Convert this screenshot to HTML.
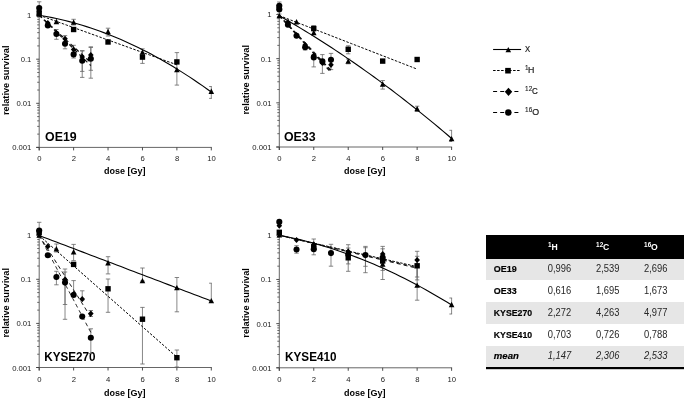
<!DOCTYPE html>
<html><head><meta charset="utf-8"><style>
html,body{margin:0;padding:0;background:#fff;}
body{width:685px;height:399px;overflow:hidden;}
svg{display:block;font-family:"Liberation Sans", sans-serif;filter:grayscale(1);}
</style></head><body>
<svg width="685" height="399" viewBox="0 0 685 399">
<rect width="685" height="399" fill="#fff"/>
<line x1="39.20" y1="14.60" x2="39.20" y2="150.40" stroke="#666666" stroke-width="1"/>
<line x1="36.20" y1="147.40" x2="211.80" y2="147.40" stroke="#666666" stroke-width="1"/>
<line x1="36.20" y1="147.40" x2="39.20" y2="147.40" stroke="#3a3a3a" stroke-width="0.9"/>
<line x1="37.20" y1="134.12" x2="39.20" y2="134.12" stroke="#3a3a3a" stroke-width="0.75"/>
<line x1="37.20" y1="126.36" x2="39.20" y2="126.36" stroke="#3a3a3a" stroke-width="0.75"/>
<line x1="37.20" y1="120.85" x2="39.20" y2="120.85" stroke="#3a3a3a" stroke-width="0.75"/>
<line x1="37.20" y1="116.58" x2="39.20" y2="116.58" stroke="#3a3a3a" stroke-width="0.75"/>
<line x1="37.20" y1="113.08" x2="39.20" y2="113.08" stroke="#3a3a3a" stroke-width="0.75"/>
<line x1="37.20" y1="110.13" x2="39.20" y2="110.13" stroke="#3a3a3a" stroke-width="0.75"/>
<line x1="37.20" y1="107.57" x2="39.20" y2="107.57" stroke="#3a3a3a" stroke-width="0.75"/>
<line x1="37.20" y1="105.32" x2="39.20" y2="105.32" stroke="#3a3a3a" stroke-width="0.75"/>
<line x1="36.20" y1="103.30" x2="39.20" y2="103.30" stroke="#3a3a3a" stroke-width="0.9"/>
<line x1="37.20" y1="90.02" x2="39.20" y2="90.02" stroke="#3a3a3a" stroke-width="0.75"/>
<line x1="37.20" y1="82.26" x2="39.20" y2="82.26" stroke="#3a3a3a" stroke-width="0.75"/>
<line x1="37.20" y1="76.75" x2="39.20" y2="76.75" stroke="#3a3a3a" stroke-width="0.75"/>
<line x1="37.20" y1="72.48" x2="39.20" y2="72.48" stroke="#3a3a3a" stroke-width="0.75"/>
<line x1="37.20" y1="68.98" x2="39.20" y2="68.98" stroke="#3a3a3a" stroke-width="0.75"/>
<line x1="37.20" y1="66.03" x2="39.20" y2="66.03" stroke="#3a3a3a" stroke-width="0.75"/>
<line x1="37.20" y1="63.47" x2="39.20" y2="63.47" stroke="#3a3a3a" stroke-width="0.75"/>
<line x1="37.20" y1="61.22" x2="39.20" y2="61.22" stroke="#3a3a3a" stroke-width="0.75"/>
<line x1="36.20" y1="59.20" x2="39.20" y2="59.20" stroke="#3a3a3a" stroke-width="0.9"/>
<line x1="37.20" y1="45.92" x2="39.20" y2="45.92" stroke="#3a3a3a" stroke-width="0.75"/>
<line x1="37.20" y1="38.16" x2="39.20" y2="38.16" stroke="#3a3a3a" stroke-width="0.75"/>
<line x1="37.20" y1="32.65" x2="39.20" y2="32.65" stroke="#3a3a3a" stroke-width="0.75"/>
<line x1="37.20" y1="28.38" x2="39.20" y2="28.38" stroke="#3a3a3a" stroke-width="0.75"/>
<line x1="37.20" y1="24.88" x2="39.20" y2="24.88" stroke="#3a3a3a" stroke-width="0.75"/>
<line x1="37.20" y1="21.93" x2="39.20" y2="21.93" stroke="#3a3a3a" stroke-width="0.75"/>
<line x1="37.20" y1="19.37" x2="39.20" y2="19.37" stroke="#3a3a3a" stroke-width="0.75"/>
<line x1="37.20" y1="17.12" x2="39.20" y2="17.12" stroke="#3a3a3a" stroke-width="0.75"/>
<line x1="36.20" y1="15.10" x2="39.20" y2="15.10" stroke="#3a3a3a" stroke-width="0.9"/>
<line x1="39.20" y1="147.40" x2="39.20" y2="150.40" stroke="#3a3a3a" stroke-width="0.9"/>
<text x="39.40" y="161.40" text-anchor="middle" font-size="7.7" fill="#222222">0</text>
<line x1="73.62" y1="147.40" x2="73.62" y2="150.40" stroke="#3a3a3a" stroke-width="0.9"/>
<text x="73.82" y="161.40" text-anchor="middle" font-size="7.7" fill="#222222">2</text>
<line x1="108.04" y1="147.40" x2="108.04" y2="150.40" stroke="#3a3a3a" stroke-width="0.9"/>
<text x="108.24" y="161.40" text-anchor="middle" font-size="7.7" fill="#222222">4</text>
<line x1="142.46" y1="147.40" x2="142.46" y2="150.40" stroke="#3a3a3a" stroke-width="0.9"/>
<text x="142.66" y="161.40" text-anchor="middle" font-size="7.7" fill="#222222">6</text>
<line x1="176.88" y1="147.40" x2="176.88" y2="150.40" stroke="#3a3a3a" stroke-width="0.9"/>
<text x="177.08" y="161.40" text-anchor="middle" font-size="7.7" fill="#222222">8</text>
<line x1="211.30" y1="147.40" x2="211.30" y2="150.40" stroke="#3a3a3a" stroke-width="0.9"/>
<text x="211.50" y="161.40" text-anchor="middle" font-size="7.7" fill="#222222">10</text>
<text x="31.40" y="150.40" text-anchor="end" font-size="7.7" fill="#222222">0.001</text>
<text x="31.40" y="106.30" text-anchor="end" font-size="7.7" fill="#222222">0.01</text>
<text x="31.40" y="62.20" text-anchor="end" font-size="7.7" fill="#222222">0.1</text>
<text x="31.40" y="18.10" text-anchor="end" font-size="7.7" fill="#222222">1</text>
<text x="124.65" y="174.20" text-anchor="middle" font-size="9" font-weight="bold" fill="#000">dose [Gy]</text>
<text transform="translate(9.00,80.25) rotate(-90)" text-anchor="middle" font-size="9.2" font-weight="bold" fill="#000">relative survival</text>
<text x="45.10" y="141.20" font-size="12.2" font-weight="bold" fill="#000" textLength="31.6" lengthAdjust="spacingAndGlyphs">OE19</text>
<line x1="39.20" y1="1.80" x2="39.20" y2="16.00" stroke="#6a6a6a" stroke-width="0.8"/><line x1="37.00" y1="1.80" x2="41.40" y2="1.80" stroke="#666" stroke-width="0.8"/><line x1="37.00" y1="16.00" x2="41.40" y2="16.00" stroke="#666" stroke-width="0.8"/>
<line x1="56.41" y1="29.50" x2="56.41" y2="39.30" stroke="#6a6a6a" stroke-width="0.8"/><line x1="54.21" y1="29.50" x2="58.61" y2="29.50" stroke="#666" stroke-width="0.8"/><line x1="54.21" y1="39.30" x2="58.61" y2="39.30" stroke="#666" stroke-width="0.8"/>
<line x1="65.02" y1="35.60" x2="65.02" y2="48.80" stroke="#6a6a6a" stroke-width="0.8"/><line x1="62.82" y1="35.60" x2="67.22" y2="35.60" stroke="#666" stroke-width="0.8"/><line x1="62.82" y1="48.80" x2="67.22" y2="48.80" stroke="#666" stroke-width="0.8"/>
<line x1="73.62" y1="19.30" x2="73.62" y2="25.00" stroke="#6a6a6a" stroke-width="0.8"/><line x1="71.42" y1="19.30" x2="75.82" y2="19.30" stroke="#666" stroke-width="0.8"/><line x1="71.42" y1="25.00" x2="75.82" y2="25.00" stroke="#666" stroke-width="0.8"/>
<line x1="73.62" y1="45.30" x2="73.62" y2="58.00" stroke="#6a6a6a" stroke-width="0.8"/><line x1="71.42" y1="45.30" x2="75.82" y2="45.30" stroke="#666" stroke-width="0.8"/><line x1="71.42" y1="58.00" x2="75.82" y2="58.00" stroke="#666" stroke-width="0.8"/>
<line x1="82.23" y1="50.60" x2="82.23" y2="77.40" stroke="#6a6a6a" stroke-width="0.8"/><line x1="80.03" y1="50.60" x2="84.43" y2="50.60" stroke="#666" stroke-width="0.8"/><line x1="80.03" y1="77.40" x2="84.43" y2="77.40" stroke="#666" stroke-width="0.8"/>
<line x1="82.23" y1="51.00" x2="82.23" y2="71.40" stroke="#6a6a6a" stroke-width="0.8"/><line x1="80.03" y1="51.00" x2="84.43" y2="51.00" stroke="#666" stroke-width="0.8"/><line x1="80.03" y1="71.40" x2="84.43" y2="71.40" stroke="#666" stroke-width="0.8"/>
<line x1="90.83" y1="46.80" x2="90.83" y2="78.20" stroke="#6a6a6a" stroke-width="0.8"/><line x1="88.63" y1="46.80" x2="93.03" y2="46.80" stroke="#666" stroke-width="0.8"/><line x1="88.63" y1="78.20" x2="93.03" y2="78.20" stroke="#666" stroke-width="0.8"/>
<line x1="90.83" y1="47.50" x2="90.83" y2="70.30" stroke="#6a6a6a" stroke-width="0.8"/><line x1="88.63" y1="47.50" x2="93.03" y2="47.50" stroke="#666" stroke-width="0.8"/><line x1="88.63" y1="70.30" x2="93.03" y2="70.30" stroke="#666" stroke-width="0.8"/>
<line x1="108.04" y1="28.20" x2="108.04" y2="36.00" stroke="#6a6a6a" stroke-width="0.8"/><line x1="105.84" y1="28.20" x2="110.24" y2="28.20" stroke="#666" stroke-width="0.8"/><line x1="105.84" y1="36.00" x2="110.24" y2="36.00" stroke="#666" stroke-width="0.8"/>
<line x1="142.46" y1="48.80" x2="142.46" y2="63.40" stroke="#6a6a6a" stroke-width="0.8"/><line x1="140.26" y1="48.80" x2="144.66" y2="48.80" stroke="#666" stroke-width="0.8"/><line x1="140.26" y1="63.40" x2="144.66" y2="63.40" stroke="#666" stroke-width="0.8"/>
<line x1="176.88" y1="52.60" x2="176.88" y2="85.10" stroke="#6a6a6a" stroke-width="0.8"/><line x1="174.68" y1="52.60" x2="179.08" y2="52.60" stroke="#666" stroke-width="0.8"/><line x1="174.68" y1="85.10" x2="179.08" y2="85.10" stroke="#666" stroke-width="0.8"/>
<line x1="211.30" y1="86.50" x2="211.30" y2="98.40" stroke="#6a6a6a" stroke-width="0.8"/><line x1="209.10" y1="86.50" x2="211.80" y2="86.50" stroke="#666" stroke-width="0.8"/><line x1="209.10" y1="98.40" x2="211.80" y2="98.40" stroke="#666" stroke-width="0.8"/>
<polyline points="39.20,15.20 43.50,15.94 47.81,16.73 52.11,17.59 56.41,18.51 60.71,19.49 65.02,20.53 69.32,21.63 73.62,22.79 77.92,24.02 82.23,25.30 86.53,26.64 90.83,28.05 95.13,29.51 99.44,31.04 103.74,32.63 108.04,34.28 112.34,35.99 116.65,37.76 120.95,39.59 125.25,41.48 129.55,43.43 133.86,45.44 138.16,47.52 142.46,49.65 146.76,51.85 151.06,54.10 155.37,56.42 159.67,58.80 163.97,61.24 168.28,63.73 172.58,66.29 176.88,68.92 181.18,71.60 185.49,74.34 189.79,77.14 194.09,80.01 198.39,82.93 202.70,85.92 207.00,88.96 211.30,92.07" stroke="#000" stroke-width="1.1" fill="none"/>
<polyline points="39.20,15.20 42.64,16.44 46.08,17.68 49.53,18.92 52.97,20.16 56.41,21.40 59.85,22.64 63.29,23.88 66.74,25.12 70.18,26.36 73.62,27.60 77.06,28.84 80.50,30.08 83.95,31.32 87.39,32.56 90.83,33.80 94.27,35.04 97.71,36.28 101.16,37.52 104.60,38.76 108.04,40.00 111.48,41.24 114.92,42.48 118.37,43.72 121.81,44.96 125.25,46.20 128.69,47.44 132.13,48.68 135.58,49.92 139.02,51.16 142.46,52.40 145.90,53.64 149.34,54.88 152.79,56.12 156.23,57.36 159.67,58.60 163.11,59.84 166.55,61.08 170.00,62.32 173.44,63.56 176.88,64.80" stroke="#000" stroke-width="1.0" fill="none" stroke-dasharray="2.5,1.5"/>
<polyline points="39.20,15.20 40.49,16.38 41.78,17.57 43.07,18.75 44.36,19.94 45.65,21.12 46.94,22.31 48.24,23.49 49.53,24.68 50.82,25.87 52.11,27.05 53.40,28.23 54.69,29.42 55.98,30.61 57.27,31.79 58.56,32.98 59.85,34.16 61.14,35.34 62.43,36.53 63.72,37.72 65.02,38.90 66.31,40.09 67.60,41.27 68.89,42.45 70.18,43.64 71.47,44.83 72.76,46.01 74.05,47.20 75.34,48.38 76.63,49.56 77.92,50.75 79.21,51.94 80.50,53.12 81.79,54.31 83.09,55.49 84.38,56.67 85.67,57.86 86.96,59.05 88.25,60.23 89.54,61.41 90.83,62.60" stroke="#111" stroke-width="1.2" fill="none" stroke-dasharray="4,3.1"/>
<polyline points="39.20,15.20 40.49,16.46 41.78,17.72 43.07,18.98 44.36,20.24 45.65,21.50 46.94,22.76 48.24,24.02 49.53,25.28 50.82,26.54 52.11,27.80 53.40,29.06 54.69,30.32 55.98,31.58 57.27,32.84 58.56,34.10 59.85,35.36 61.14,36.62 62.43,37.88 63.72,39.14 65.02,40.40 66.31,41.66 67.60,42.92 68.89,44.18 70.18,45.44 71.47,46.70 72.76,47.96 74.05,49.22 75.34,50.48 76.63,51.74 77.92,53.00 79.21,54.26 80.50,55.52 81.79,56.78 83.09,58.04 84.38,59.30 85.67,60.56 86.96,61.82 88.25,63.08 89.54,64.34 90.83,65.60" stroke="#111" stroke-width="1.2" fill="none" stroke-dasharray="4,3.1" stroke-dashoffset="0.6"/>
<rect x="36.50" y="10.50" width="5.40" height="5.40" fill="#000"/>
<rect x="70.92" y="26.80" width="5.40" height="5.40" fill="#000"/>
<rect x="105.34" y="39.30" width="5.40" height="5.40" fill="#000"/>
<rect x="139.76" y="54.40" width="5.40" height="5.40" fill="#000"/>
<rect x="174.18" y="59.20" width="5.40" height="5.40" fill="#000"/>
<path d="M39.20,11.31 L42.00,16.63 L36.40,16.63 Z" fill="#000"/>
<path d="M56.41,18.81 L59.21,24.13 L53.61,24.13 Z" fill="#000"/>
<path d="M73.62,19.41 L76.42,24.73 L70.82,24.73 Z" fill="#000"/>
<path d="M108.04,28.81 L110.84,34.13 L105.24,34.13 Z" fill="#000"/>
<path d="M142.46,49.41 L145.26,54.73 L139.66,54.73 Z" fill="#000"/>
<path d="M176.88,67.01 L179.68,72.33 L174.08,72.33 Z" fill="#000"/>
<path d="M211.30,88.61 L214.10,93.93 L208.50,93.93 Z" fill="#000"/>
<path d="M39.20,7.90 L41.99,11.00 L39.20,14.10 L36.41,11.00 Z" fill="#000"/>
<path d="M47.81,19.90 L50.60,23.00 L47.81,26.10 L45.02,23.00 Z" fill="#000"/>
<path d="M56.41,29.90 L59.20,33.00 L56.41,36.10 L53.62,33.00 Z" fill="#000"/>
<path d="M65.02,35.70 L67.81,38.80 L65.02,41.90 L62.23,38.80 Z" fill="#000"/>
<path d="M73.62,46.40 L76.41,49.50 L73.62,52.60 L70.83,49.50 Z" fill="#000"/>
<path d="M82.23,53.90 L85.02,57.00 L82.23,60.10 L79.44,57.00 Z" fill="#000"/>
<path d="M90.83,51.90 L93.62,55.00 L90.83,58.10 L88.04,55.00 Z" fill="#000"/>
<circle cx="39.20" cy="8.00" r="3.05" fill="#000"/>
<circle cx="47.81" cy="25.50" r="3.05" fill="#000"/>
<circle cx="56.41" cy="34.00" r="3.05" fill="#000"/>
<circle cx="65.02" cy="43.80" r="3.05" fill="#000"/>
<circle cx="73.62" cy="54.40" r="3.05" fill="#000"/>
<circle cx="82.23" cy="60.70" r="3.05" fill="#000"/>
<circle cx="90.83" cy="58.80" r="3.05" fill="#000"/>
<line x1="279.30" y1="13.99" x2="279.30" y2="150.00" stroke="#666666" stroke-width="1"/>
<line x1="276.30" y1="147.00" x2="452.10" y2="147.00" stroke="#666666" stroke-width="1"/>
<line x1="276.30" y1="147.00" x2="279.30" y2="147.00" stroke="#3a3a3a" stroke-width="0.9"/>
<line x1="277.30" y1="133.70" x2="279.30" y2="133.70" stroke="#3a3a3a" stroke-width="0.75"/>
<line x1="277.30" y1="125.93" x2="279.30" y2="125.93" stroke="#3a3a3a" stroke-width="0.75"/>
<line x1="277.30" y1="120.41" x2="279.30" y2="120.41" stroke="#3a3a3a" stroke-width="0.75"/>
<line x1="277.30" y1="116.13" x2="279.30" y2="116.13" stroke="#3a3a3a" stroke-width="0.75"/>
<line x1="277.30" y1="112.63" x2="279.30" y2="112.63" stroke="#3a3a3a" stroke-width="0.75"/>
<line x1="277.30" y1="109.67" x2="279.30" y2="109.67" stroke="#3a3a3a" stroke-width="0.75"/>
<line x1="277.30" y1="107.11" x2="279.30" y2="107.11" stroke="#3a3a3a" stroke-width="0.75"/>
<line x1="277.30" y1="104.85" x2="279.30" y2="104.85" stroke="#3a3a3a" stroke-width="0.75"/>
<line x1="276.30" y1="102.83" x2="279.30" y2="102.83" stroke="#3a3a3a" stroke-width="0.9"/>
<line x1="277.30" y1="89.53" x2="279.30" y2="89.53" stroke="#3a3a3a" stroke-width="0.75"/>
<line x1="277.30" y1="81.76" x2="279.30" y2="81.76" stroke="#3a3a3a" stroke-width="0.75"/>
<line x1="277.30" y1="76.24" x2="279.30" y2="76.24" stroke="#3a3a3a" stroke-width="0.75"/>
<line x1="277.30" y1="71.96" x2="279.30" y2="71.96" stroke="#3a3a3a" stroke-width="0.75"/>
<line x1="277.30" y1="68.46" x2="279.30" y2="68.46" stroke="#3a3a3a" stroke-width="0.75"/>
<line x1="277.30" y1="65.50" x2="279.30" y2="65.50" stroke="#3a3a3a" stroke-width="0.75"/>
<line x1="277.30" y1="62.94" x2="279.30" y2="62.94" stroke="#3a3a3a" stroke-width="0.75"/>
<line x1="277.30" y1="60.68" x2="279.30" y2="60.68" stroke="#3a3a3a" stroke-width="0.75"/>
<line x1="276.30" y1="58.66" x2="279.30" y2="58.66" stroke="#3a3a3a" stroke-width="0.9"/>
<line x1="277.30" y1="45.36" x2="279.30" y2="45.36" stroke="#3a3a3a" stroke-width="0.75"/>
<line x1="277.30" y1="37.59" x2="279.30" y2="37.59" stroke="#3a3a3a" stroke-width="0.75"/>
<line x1="277.30" y1="32.07" x2="279.30" y2="32.07" stroke="#3a3a3a" stroke-width="0.75"/>
<line x1="277.30" y1="27.79" x2="279.30" y2="27.79" stroke="#3a3a3a" stroke-width="0.75"/>
<line x1="277.30" y1="24.29" x2="279.30" y2="24.29" stroke="#3a3a3a" stroke-width="0.75"/>
<line x1="277.30" y1="21.33" x2="279.30" y2="21.33" stroke="#3a3a3a" stroke-width="0.75"/>
<line x1="277.30" y1="18.77" x2="279.30" y2="18.77" stroke="#3a3a3a" stroke-width="0.75"/>
<line x1="277.30" y1="16.51" x2="279.30" y2="16.51" stroke="#3a3a3a" stroke-width="0.75"/>
<line x1="276.30" y1="14.49" x2="279.30" y2="14.49" stroke="#3a3a3a" stroke-width="0.9"/>
<line x1="279.30" y1="147.00" x2="279.30" y2="150.00" stroke="#3a3a3a" stroke-width="0.9"/>
<text x="279.50" y="161.00" text-anchor="middle" font-size="7.7" fill="#222222">0</text>
<line x1="313.76" y1="147.00" x2="313.76" y2="150.00" stroke="#3a3a3a" stroke-width="0.9"/>
<text x="313.96" y="161.00" text-anchor="middle" font-size="7.7" fill="#222222">2</text>
<line x1="348.22" y1="147.00" x2="348.22" y2="150.00" stroke="#3a3a3a" stroke-width="0.9"/>
<text x="348.42" y="161.00" text-anchor="middle" font-size="7.7" fill="#222222">4</text>
<line x1="382.68" y1="147.00" x2="382.68" y2="150.00" stroke="#3a3a3a" stroke-width="0.9"/>
<text x="382.88" y="161.00" text-anchor="middle" font-size="7.7" fill="#222222">6</text>
<line x1="417.14" y1="147.00" x2="417.14" y2="150.00" stroke="#3a3a3a" stroke-width="0.9"/>
<text x="417.34" y="161.00" text-anchor="middle" font-size="7.7" fill="#222222">8</text>
<line x1="451.60" y1="147.00" x2="451.60" y2="150.00" stroke="#3a3a3a" stroke-width="0.9"/>
<text x="451.80" y="161.00" text-anchor="middle" font-size="7.7" fill="#222222">10</text>
<text x="271.50" y="150.00" text-anchor="end" font-size="7.7" fill="#222222">0.001</text>
<text x="271.50" y="105.83" text-anchor="end" font-size="7.7" fill="#222222">0.01</text>
<text x="271.50" y="61.66" text-anchor="end" font-size="7.7" fill="#222222">0.1</text>
<text x="271.50" y="17.49" text-anchor="end" font-size="7.7" fill="#222222">1</text>
<text x="364.85" y="174.20" text-anchor="middle" font-size="9" font-weight="bold" fill="#000">dose [Gy]</text>
<text transform="translate(249.10,79.75) rotate(-90)" text-anchor="middle" font-size="9.2" font-weight="bold" fill="#000">relative survival</text>
<text x="284.00" y="141.00" font-size="12.2" font-weight="bold" fill="#000" textLength="31.6" lengthAdjust="spacingAndGlyphs">OE33</text>
<line x1="279.30" y1="2.00" x2="279.30" y2="14.00" stroke="#6a6a6a" stroke-width="0.8"/><line x1="277.10" y1="2.00" x2="281.50" y2="2.00" stroke="#666" stroke-width="0.8"/><line x1="277.10" y1="14.00" x2="281.50" y2="14.00" stroke="#666" stroke-width="0.8"/>
<line x1="313.76" y1="25.70" x2="313.76" y2="31.00" stroke="#6a6a6a" stroke-width="0.8"/><line x1="311.56" y1="25.70" x2="315.96" y2="25.70" stroke="#666" stroke-width="0.8"/><line x1="311.56" y1="31.00" x2="315.96" y2="31.00" stroke="#666" stroke-width="0.8"/>
<line x1="348.22" y1="45.80" x2="348.22" y2="53.80" stroke="#6a6a6a" stroke-width="0.8"/><line x1="346.02" y1="45.80" x2="350.42" y2="45.80" stroke="#666" stroke-width="0.8"/><line x1="346.02" y1="53.80" x2="350.42" y2="53.80" stroke="#666" stroke-width="0.8"/>
<line x1="348.22" y1="59.00" x2="348.22" y2="63.80" stroke="#6a6a6a" stroke-width="0.8"/><line x1="346.02" y1="59.00" x2="350.42" y2="59.00" stroke="#666" stroke-width="0.8"/><line x1="346.02" y1="63.80" x2="350.42" y2="63.80" stroke="#666" stroke-width="0.8"/>
<line x1="305.15" y1="44.50" x2="305.15" y2="50.00" stroke="#6a6a6a" stroke-width="0.8"/><line x1="302.95" y1="44.50" x2="307.35" y2="44.50" stroke="#666" stroke-width="0.8"/><line x1="302.95" y1="50.00" x2="307.35" y2="50.00" stroke="#666" stroke-width="0.8"/>
<line x1="313.76" y1="54.60" x2="313.76" y2="66.90" stroke="#6a6a6a" stroke-width="0.8"/><line x1="311.56" y1="54.60" x2="315.96" y2="54.60" stroke="#666" stroke-width="0.8"/><line x1="311.56" y1="66.90" x2="315.96" y2="66.90" stroke="#666" stroke-width="0.8"/>
<line x1="322.38" y1="54.60" x2="322.38" y2="73.40" stroke="#6a6a6a" stroke-width="0.8"/><line x1="320.18" y1="54.60" x2="324.57" y2="54.60" stroke="#666" stroke-width="0.8"/><line x1="320.18" y1="73.40" x2="324.57" y2="73.40" stroke="#666" stroke-width="0.8"/>
<line x1="330.99" y1="53.40" x2="330.99" y2="69.60" stroke="#6a6a6a" stroke-width="0.8"/><line x1="328.79" y1="53.40" x2="333.19" y2="53.40" stroke="#666" stroke-width="0.8"/><line x1="328.79" y1="69.60" x2="333.19" y2="69.60" stroke="#666" stroke-width="0.8"/>
<line x1="382.68" y1="80.50" x2="382.68" y2="89.10" stroke="#6a6a6a" stroke-width="0.8"/><line x1="380.48" y1="80.50" x2="384.88" y2="80.50" stroke="#666" stroke-width="0.8"/><line x1="380.48" y1="89.10" x2="384.88" y2="89.10" stroke="#666" stroke-width="0.8"/>
<line x1="417.14" y1="106.20" x2="417.14" y2="111.50" stroke="#6a6a6a" stroke-width="0.8"/><line x1="414.94" y1="106.20" x2="419.34" y2="106.20" stroke="#666" stroke-width="0.8"/><line x1="414.94" y1="111.50" x2="419.34" y2="111.50" stroke="#666" stroke-width="0.8"/>
<line x1="451.60" y1="130.30" x2="451.60" y2="141.50" stroke="#6a6a6a" stroke-width="0.8"/><line x1="449.40" y1="130.30" x2="452.10" y2="130.30" stroke="#666" stroke-width="0.8"/><line x1="449.40" y1="141.50" x2="452.10" y2="141.50" stroke="#666" stroke-width="0.8"/>
<polyline points="279.30,15.80 283.61,18.25 287.92,20.74 292.22,23.25 296.53,25.80 300.84,28.38 305.15,30.99 309.45,33.63 313.76,36.31 318.07,39.01 322.38,41.75 326.68,44.52 330.99,47.31 335.30,50.15 339.61,53.01 343.91,55.90 348.22,58.83 352.53,61.78 356.84,64.77 361.14,67.79 365.45,70.84 369.76,73.92 374.07,77.04 378.37,80.18 382.68,83.36 386.99,86.57 391.30,89.81 395.60,93.08 399.91,96.38 404.22,99.71 408.52,103.08 412.83,106.47 417.14,109.90 421.45,113.36 425.75,116.85 430.06,120.38 434.37,123.93 438.68,127.52 442.99,131.13 447.29,134.78 451.60,138.46" stroke="#000" stroke-width="1.1" fill="none"/>
<polyline points="279.30,15.60 282.75,16.94 286.19,18.28 289.64,19.61 293.08,20.95 296.53,22.29 299.98,23.63 303.42,24.97 306.87,26.30 310.31,27.64 313.76,28.98 317.21,30.32 320.65,31.66 324.10,32.99 327.54,34.33 330.99,35.67 334.44,37.01 337.88,38.35 341.33,39.68 344.77,41.02 348.22,42.36 351.67,43.70 355.11,45.04 358.56,46.37 362.00,47.71 365.45,49.05 368.90,50.39 372.34,51.73 375.79,53.06 379.23,54.40 382.68,55.74 386.13,57.08 389.57,58.42 393.02,59.75 396.46,61.09 399.91,62.43 403.36,63.77 406.80,65.11 410.25,66.44 413.69,67.78 417.14,69.12" stroke="#000" stroke-width="1.0" fill="none" stroke-dasharray="2.5,1.5"/>
<polyline points="279.30,15.60 280.59,16.97 281.88,18.34 283.18,19.72 284.47,21.09 285.76,22.46 287.05,23.84 288.35,25.21 289.64,26.58 290.93,27.95 292.22,29.33 293.51,30.70 294.81,32.07 296.10,33.44 297.39,34.81 298.68,36.19 299.98,37.56 301.27,38.93 302.56,40.30 303.85,41.68 305.15,43.05 306.44,44.42 307.73,45.80 309.02,47.17 310.31,48.54 311.61,49.91 312.90,51.29 314.19,52.66 315.48,54.03 316.78,55.40 318.07,56.78 319.36,58.15 320.65,59.52 321.94,60.89 323.24,62.27 324.53,63.64 325.82,65.01 327.11,66.38 328.41,67.75 329.70,69.13 330.99,70.50" stroke="#111" stroke-width="1.5" fill="none" stroke-dasharray="4,3.1"/>
<polyline points="279.30,15.60 280.59,17.02 281.88,18.43 283.18,19.85 284.47,21.27 285.76,22.69 287.05,24.10 288.35,25.52 289.64,26.94 290.93,28.36 292.22,29.77 293.51,31.19 294.81,32.61 296.10,34.03 297.39,35.45 298.68,36.86 299.98,38.28 301.27,39.70 302.56,41.12 303.85,42.53 305.15,43.95 306.44,45.37 307.73,46.78 309.02,48.20 310.31,49.62 311.61,51.04 312.90,52.45 314.19,53.87 315.48,55.29 316.78,56.71 318.07,58.12 319.36,59.54 320.65,60.96 321.94,62.38 323.24,63.79 324.53,65.21 325.82,66.63 327.11,68.05 328.41,69.46 329.70,70.88 330.99,72.30" stroke="#111" stroke-width="1.4" fill="none" stroke-dasharray="4,3.1" stroke-dashoffset="0.6"/>
<rect x="276.60" y="4.90" width="5.40" height="5.40" fill="#000"/>
<rect x="311.06" y="25.80" width="5.40" height="5.40" fill="#000"/>
<rect x="345.52" y="46.60" width="5.40" height="5.40" fill="#000"/>
<rect x="379.98" y="58.40" width="5.40" height="5.40" fill="#000"/>
<rect x="414.44" y="56.80" width="5.40" height="5.40" fill="#000"/>
<path d="M279.30,13.01 L282.10,18.33 L276.50,18.33 Z" fill="#000"/>
<path d="M296.53,19.11 L299.33,24.43 L293.73,24.43 Z" fill="#000"/>
<path d="M313.76,29.81 L316.56,35.13 L310.96,35.13 Z" fill="#000"/>
<path d="M348.22,58.41 L351.02,63.73 L345.42,63.73 Z" fill="#000"/>
<path d="M382.68,81.31 L385.48,86.63 L379.88,86.63 Z" fill="#000"/>
<path d="M417.14,105.91 L419.94,111.23 L414.34,111.23 Z" fill="#000"/>
<path d="M451.60,135.91 L454.40,141.23 L448.80,141.23 Z" fill="#000"/>
<path d="M279.30,4.50 L282.09,7.60 L279.30,10.70 L276.51,7.60 Z" fill="#000"/>
<path d="M287.92,19.20 L290.71,22.30 L287.92,25.40 L285.12,22.30 Z" fill="#000"/>
<path d="M296.53,32.10 L299.32,35.20 L296.53,38.30 L293.74,35.20 Z" fill="#000"/>
<path d="M305.15,41.90 L307.94,45.00 L305.15,48.10 L302.36,45.00 Z" fill="#000"/>
<path d="M313.76,52.70 L316.55,55.80 L313.76,58.90 L310.97,55.80 Z" fill="#000"/>
<path d="M322.38,59.90 L325.17,63.00 L322.38,66.10 L319.58,63.00 Z" fill="#000"/>
<path d="M330.99,61.70 L333.78,64.80 L330.99,67.90 L328.20,64.80 Z" fill="#000"/>
<circle cx="279.30" cy="5.80" r="3.05" fill="#000"/>
<circle cx="279.30" cy="9.40" r="3.05" fill="#000"/>
<circle cx="287.92" cy="24.80" r="3.05" fill="#000"/>
<circle cx="296.53" cy="35.80" r="3.05" fill="#000"/>
<circle cx="305.15" cy="47.20" r="3.05" fill="#000"/>
<circle cx="313.76" cy="57.40" r="3.05" fill="#000"/>
<circle cx="322.38" cy="61.40" r="3.05" fill="#000"/>
<circle cx="330.99" cy="59.80" r="3.05" fill="#000"/>
<line x1="39.20" y1="234.70" x2="39.20" y2="370.50" stroke="#666666" stroke-width="1"/>
<line x1="36.20" y1="367.50" x2="211.80" y2="367.50" stroke="#666666" stroke-width="1"/>
<line x1="36.20" y1="367.50" x2="39.20" y2="367.50" stroke="#3a3a3a" stroke-width="0.9"/>
<line x1="37.20" y1="354.22" x2="39.20" y2="354.22" stroke="#3a3a3a" stroke-width="0.75"/>
<line x1="37.20" y1="346.46" x2="39.20" y2="346.46" stroke="#3a3a3a" stroke-width="0.75"/>
<line x1="37.20" y1="340.95" x2="39.20" y2="340.95" stroke="#3a3a3a" stroke-width="0.75"/>
<line x1="37.20" y1="336.68" x2="39.20" y2="336.68" stroke="#3a3a3a" stroke-width="0.75"/>
<line x1="37.20" y1="333.18" x2="39.20" y2="333.18" stroke="#3a3a3a" stroke-width="0.75"/>
<line x1="37.20" y1="330.23" x2="39.20" y2="330.23" stroke="#3a3a3a" stroke-width="0.75"/>
<line x1="37.20" y1="327.67" x2="39.20" y2="327.67" stroke="#3a3a3a" stroke-width="0.75"/>
<line x1="37.20" y1="325.42" x2="39.20" y2="325.42" stroke="#3a3a3a" stroke-width="0.75"/>
<line x1="36.20" y1="323.40" x2="39.20" y2="323.40" stroke="#3a3a3a" stroke-width="0.9"/>
<line x1="37.20" y1="310.12" x2="39.20" y2="310.12" stroke="#3a3a3a" stroke-width="0.75"/>
<line x1="37.20" y1="302.36" x2="39.20" y2="302.36" stroke="#3a3a3a" stroke-width="0.75"/>
<line x1="37.20" y1="296.85" x2="39.20" y2="296.85" stroke="#3a3a3a" stroke-width="0.75"/>
<line x1="37.20" y1="292.58" x2="39.20" y2="292.58" stroke="#3a3a3a" stroke-width="0.75"/>
<line x1="37.20" y1="289.08" x2="39.20" y2="289.08" stroke="#3a3a3a" stroke-width="0.75"/>
<line x1="37.20" y1="286.13" x2="39.20" y2="286.13" stroke="#3a3a3a" stroke-width="0.75"/>
<line x1="37.20" y1="283.57" x2="39.20" y2="283.57" stroke="#3a3a3a" stroke-width="0.75"/>
<line x1="37.20" y1="281.32" x2="39.20" y2="281.32" stroke="#3a3a3a" stroke-width="0.75"/>
<line x1="36.20" y1="279.30" x2="39.20" y2="279.30" stroke="#3a3a3a" stroke-width="0.9"/>
<line x1="37.20" y1="266.02" x2="39.20" y2="266.02" stroke="#3a3a3a" stroke-width="0.75"/>
<line x1="37.20" y1="258.26" x2="39.20" y2="258.26" stroke="#3a3a3a" stroke-width="0.75"/>
<line x1="37.20" y1="252.75" x2="39.20" y2="252.75" stroke="#3a3a3a" stroke-width="0.75"/>
<line x1="37.20" y1="248.48" x2="39.20" y2="248.48" stroke="#3a3a3a" stroke-width="0.75"/>
<line x1="37.20" y1="244.98" x2="39.20" y2="244.98" stroke="#3a3a3a" stroke-width="0.75"/>
<line x1="37.20" y1="242.03" x2="39.20" y2="242.03" stroke="#3a3a3a" stroke-width="0.75"/>
<line x1="37.20" y1="239.47" x2="39.20" y2="239.47" stroke="#3a3a3a" stroke-width="0.75"/>
<line x1="37.20" y1="237.22" x2="39.20" y2="237.22" stroke="#3a3a3a" stroke-width="0.75"/>
<line x1="36.20" y1="235.20" x2="39.20" y2="235.20" stroke="#3a3a3a" stroke-width="0.9"/>
<line x1="39.20" y1="367.50" x2="39.20" y2="370.50" stroke="#3a3a3a" stroke-width="0.9"/>
<text x="39.40" y="381.50" text-anchor="middle" font-size="7.7" fill="#222222">0</text>
<line x1="73.62" y1="367.50" x2="73.62" y2="370.50" stroke="#3a3a3a" stroke-width="0.9"/>
<text x="73.82" y="381.50" text-anchor="middle" font-size="7.7" fill="#222222">2</text>
<line x1="108.04" y1="367.50" x2="108.04" y2="370.50" stroke="#3a3a3a" stroke-width="0.9"/>
<text x="108.24" y="381.50" text-anchor="middle" font-size="7.7" fill="#222222">4</text>
<line x1="142.46" y1="367.50" x2="142.46" y2="370.50" stroke="#3a3a3a" stroke-width="0.9"/>
<text x="142.66" y="381.50" text-anchor="middle" font-size="7.7" fill="#222222">6</text>
<line x1="176.88" y1="367.50" x2="176.88" y2="370.50" stroke="#3a3a3a" stroke-width="0.9"/>
<text x="177.08" y="381.50" text-anchor="middle" font-size="7.7" fill="#222222">8</text>
<line x1="211.30" y1="367.50" x2="211.30" y2="370.50" stroke="#3a3a3a" stroke-width="0.9"/>
<text x="211.50" y="381.50" text-anchor="middle" font-size="7.7" fill="#222222">10</text>
<text x="31.40" y="370.50" text-anchor="end" font-size="7.7" fill="#222222">0.001</text>
<text x="31.40" y="326.40" text-anchor="end" font-size="7.7" fill="#222222">0.01</text>
<text x="31.40" y="282.30" text-anchor="end" font-size="7.7" fill="#222222">0.1</text>
<text x="31.40" y="238.20" text-anchor="end" font-size="7.7" fill="#222222">1</text>
<text x="124.65" y="395.90" text-anchor="middle" font-size="9" font-weight="bold" fill="#000">dose [Gy]</text>
<text transform="translate(9.00,302.75) rotate(-90)" text-anchor="middle" font-size="9.2" font-weight="bold" fill="#000">relative survival</text>
<text x="44.20" y="361.00" font-size="12.2" font-weight="bold" fill="#000" textLength="51.4" lengthAdjust="spacingAndGlyphs">KYSE270</text>
<line x1="39.20" y1="222.30" x2="39.20" y2="236.00" stroke="#6a6a6a" stroke-width="0.8"/><line x1="37.00" y1="222.30" x2="41.40" y2="222.30" stroke="#666" stroke-width="0.8"/><line x1="37.00" y1="236.00" x2="41.40" y2="236.00" stroke="#666" stroke-width="0.8"/>
<line x1="56.41" y1="244.00" x2="56.41" y2="252.00" stroke="#6a6a6a" stroke-width="0.8"/><line x1="54.21" y1="244.00" x2="58.61" y2="244.00" stroke="#666" stroke-width="0.8"/><line x1="54.21" y1="252.00" x2="58.61" y2="252.00" stroke="#666" stroke-width="0.8"/>
<line x1="73.62" y1="244.40" x2="73.62" y2="260.60" stroke="#6a6a6a" stroke-width="0.8"/><line x1="71.42" y1="244.40" x2="75.82" y2="244.40" stroke="#666" stroke-width="0.8"/><line x1="71.42" y1="260.60" x2="75.82" y2="260.60" stroke="#666" stroke-width="0.8"/>
<line x1="108.04" y1="256.70" x2="108.04" y2="273.90" stroke="#6a6a6a" stroke-width="0.8"/><line x1="105.84" y1="256.70" x2="110.24" y2="256.70" stroke="#666" stroke-width="0.8"/><line x1="105.84" y1="273.90" x2="110.24" y2="273.90" stroke="#666" stroke-width="0.8"/>
<line x1="142.46" y1="268.00" x2="142.46" y2="281.00" stroke="#6a6a6a" stroke-width="0.8"/><line x1="140.26" y1="268.00" x2="144.66" y2="268.00" stroke="#666" stroke-width="0.8"/><line x1="140.26" y1="281.00" x2="144.66" y2="281.00" stroke="#666" stroke-width="0.8"/>
<line x1="176.88" y1="277.50" x2="176.88" y2="311.80" stroke="#6a6a6a" stroke-width="0.8"/><line x1="174.68" y1="277.50" x2="179.08" y2="277.50" stroke="#666" stroke-width="0.8"/><line x1="174.68" y1="311.80" x2="179.08" y2="311.80" stroke="#666" stroke-width="0.8"/>
<line x1="211.30" y1="283.20" x2="211.30" y2="301.20" stroke="#6a6a6a" stroke-width="0.8"/><line x1="209.10" y1="283.20" x2="211.80" y2="283.20" stroke="#666" stroke-width="0.8"/><line x1="209.10" y1="301.20" x2="211.80" y2="301.20" stroke="#666" stroke-width="0.8"/>
<line x1="108.04" y1="279.00" x2="108.04" y2="312.30" stroke="#6a6a6a" stroke-width="0.8"/><line x1="105.84" y1="279.00" x2="110.24" y2="279.00" stroke="#666" stroke-width="0.8"/><line x1="105.84" y1="312.30" x2="110.24" y2="312.30" stroke="#666" stroke-width="0.8"/>
<line x1="142.46" y1="307.40" x2="142.46" y2="364.00" stroke="#6a6a6a" stroke-width="0.8"/><line x1="140.26" y1="307.40" x2="144.66" y2="307.40" stroke="#666" stroke-width="0.8"/><line x1="140.26" y1="364.00" x2="144.66" y2="364.00" stroke="#666" stroke-width="0.8"/>
<line x1="176.88" y1="350.00" x2="176.88" y2="367.00" stroke="#6a6a6a" stroke-width="0.8"/><line x1="174.68" y1="350.00" x2="179.08" y2="350.00" stroke="#666" stroke-width="0.8"/><line x1="174.68" y1="367.00" x2="179.08" y2="367.00" stroke="#666" stroke-width="0.8"/>
<line x1="56.41" y1="271.30" x2="56.41" y2="284.80" stroke="#6a6a6a" stroke-width="0.8"/><line x1="54.21" y1="271.30" x2="58.61" y2="271.30" stroke="#666" stroke-width="0.8"/><line x1="54.21" y1="284.80" x2="58.61" y2="284.80" stroke="#666" stroke-width="0.8"/>
<line x1="65.02" y1="269.00" x2="65.02" y2="319.30" stroke="#6a6a6a" stroke-width="0.8"/><line x1="62.82" y1="269.00" x2="67.22" y2="269.00" stroke="#666" stroke-width="0.8"/><line x1="62.82" y1="319.30" x2="67.22" y2="319.30" stroke="#666" stroke-width="0.8"/>
<line x1="65.02" y1="272.00" x2="65.02" y2="304.50" stroke="#6a6a6a" stroke-width="0.8"/><line x1="62.82" y1="272.00" x2="67.22" y2="272.00" stroke="#666" stroke-width="0.8"/><line x1="62.82" y1="304.50" x2="67.22" y2="304.50" stroke="#666" stroke-width="0.8"/>
<line x1="73.62" y1="280.60" x2="73.62" y2="296.00" stroke="#6a6a6a" stroke-width="0.8"/><line x1="71.42" y1="280.60" x2="75.82" y2="280.60" stroke="#666" stroke-width="0.8"/><line x1="71.42" y1="296.00" x2="75.82" y2="296.00" stroke="#666" stroke-width="0.8"/>
<line x1="82.23" y1="290.80" x2="82.23" y2="300.00" stroke="#6a6a6a" stroke-width="0.8"/><line x1="80.03" y1="290.80" x2="84.43" y2="290.80" stroke="#666" stroke-width="0.8"/><line x1="80.03" y1="300.00" x2="84.43" y2="300.00" stroke="#666" stroke-width="0.8"/>
<line x1="90.83" y1="328.80" x2="90.83" y2="353.50" stroke="#6a6a6a" stroke-width="0.8"/><line x1="88.63" y1="328.80" x2="93.03" y2="328.80" stroke="#666" stroke-width="0.8"/><line x1="88.63" y1="353.50" x2="93.03" y2="353.50" stroke="#666" stroke-width="0.8"/>
<line x1="90.83" y1="310.50" x2="90.83" y2="316.50" stroke="#6a6a6a" stroke-width="0.8"/><line x1="88.63" y1="310.50" x2="93.03" y2="310.50" stroke="#666" stroke-width="0.8"/><line x1="88.63" y1="316.50" x2="93.03" y2="316.50" stroke="#666" stroke-width="0.8"/>
<polyline points="39.20,235.50 43.50,237.14 47.81,238.78 52.11,240.41 56.41,242.05 60.71,243.69 65.02,245.32 69.32,246.96 73.62,248.60 77.92,250.24 82.23,251.88 86.53,253.51 90.83,255.15 95.13,256.79 99.44,258.43 103.74,260.06 108.04,261.70 112.34,263.34 116.65,264.98 120.95,266.61 125.25,268.25 129.55,269.89 133.86,271.52 138.16,273.16 142.46,274.80 146.76,276.44 151.06,278.07 155.37,279.71 159.67,281.35 163.97,282.99 168.28,284.62 172.58,286.26 176.88,287.90 181.18,289.54 185.49,291.18 189.79,292.81 194.09,294.45 198.39,296.09 202.70,297.73 207.00,299.36 211.30,301.00" stroke="#000" stroke-width="1.1" fill="none"/>
<polyline points="39.20,235.50 42.64,238.54 46.08,241.58 49.53,244.62 52.97,247.66 56.41,250.70 59.85,253.74 63.29,256.78 66.74,259.82 70.18,262.86 73.62,265.90 77.06,268.94 80.50,271.98 83.95,275.02 87.39,278.06 90.83,281.10 94.27,284.14 97.71,287.18 101.16,290.22 104.60,293.26 108.04,296.30 111.48,299.34 114.92,302.38 118.37,305.42 121.81,308.46 125.25,311.50 128.69,314.54 132.13,317.58 135.58,320.62 139.02,323.66 142.46,326.70 145.90,329.74 149.34,332.78 152.79,335.82 156.23,338.86 159.67,341.90 163.11,344.94 166.55,347.98 170.00,351.02 173.44,354.06 176.88,357.10" stroke="#000" stroke-width="1.0" fill="none" stroke-dasharray="2.5,1.5"/>
<polyline points="39.20,235.50 40.49,237.54 41.78,239.58 43.07,241.62 44.36,243.66 45.65,245.70 46.94,247.74 48.24,249.78 49.53,251.82 50.82,253.86 52.11,255.90 53.40,257.94 54.69,259.98 55.98,262.02 57.27,264.06 58.56,266.10 59.85,268.14 61.14,270.18 62.43,272.22 63.72,274.26 65.02,276.30 66.31,278.34 67.60,280.38 68.89,282.42 70.18,284.46 71.47,286.50 72.76,288.54 74.05,290.58 75.34,292.62 76.63,294.66 77.92,296.70 79.21,298.74 80.50,300.78 81.79,302.82 83.09,304.86 84.38,306.90 85.67,308.94 86.96,310.98 88.25,313.02 89.54,315.06 90.83,317.10" stroke="#111" stroke-width="1.0" fill="none" stroke-dasharray="4,3.1"/>
<polyline points="39.20,235.50 40.49,237.92 41.78,240.34 43.07,242.77 44.36,245.19 45.65,247.61 46.94,250.03 48.24,252.46 49.53,254.88 50.82,257.30 52.11,259.73 53.40,262.15 54.69,264.57 55.98,266.99 57.27,269.42 58.56,271.84 59.85,274.26 61.14,276.68 62.43,279.11 63.72,281.53 65.02,283.95 66.31,286.37 67.60,288.80 68.89,291.22 70.18,293.64 71.47,296.06 72.76,298.49 74.05,300.91 75.34,303.33 76.63,305.75 77.92,308.18 79.21,310.60 80.50,313.02 81.79,315.44 83.09,317.87 84.38,320.29 85.67,322.71 86.96,325.13 88.25,327.56 89.54,329.98 90.83,332.40" stroke="#111" stroke-width="0.9" fill="none" stroke-dasharray="4,3.1" stroke-dashoffset="0.6"/>
<rect x="36.50" y="229.90" width="5.40" height="5.40" fill="#000"/>
<rect x="70.92" y="261.70" width="5.40" height="5.40" fill="#000"/>
<rect x="105.34" y="286.10" width="5.40" height="5.40" fill="#000"/>
<rect x="139.76" y="316.50" width="5.40" height="5.40" fill="#000"/>
<rect x="174.18" y="355.00" width="5.40" height="5.40" fill="#000"/>
<path d="M39.20,232.31 L42.00,237.63 L36.40,237.63 Z" fill="#000"/>
<path d="M56.41,246.11 L59.21,251.43 L53.61,251.43 Z" fill="#000"/>
<path d="M73.62,249.11 L76.42,254.43 L70.82,254.43 Z" fill="#000"/>
<path d="M108.04,260.11 L110.84,265.43 L105.24,265.43 Z" fill="#000"/>
<path d="M142.46,277.91 L145.26,283.23 L139.66,283.23 Z" fill="#000"/>
<path d="M176.88,285.01 L179.68,290.33 L174.08,290.33 Z" fill="#000"/>
<path d="M211.30,297.91 L214.10,303.23 L208.50,303.23 Z" fill="#000"/>
<path d="M39.20,227.90 L41.99,231.00 L39.20,234.10 L36.41,231.00 Z" fill="#000"/>
<path d="M47.81,243.30 L50.60,246.40 L47.81,249.50 L45.02,246.40 Z" fill="#000"/>
<path d="M56.41,273.90 L59.20,277.00 L56.41,280.10 L53.62,277.00 Z" fill="#000"/>
<path d="M65.02,276.40 L67.81,279.50 L65.02,282.60 L62.23,279.50 Z" fill="#000"/>
<path d="M73.62,290.90 L76.41,294.00 L73.62,297.10 L70.83,294.00 Z" fill="#000"/>
<path d="M82.23,296.00 L85.02,299.10 L82.23,302.20 L79.44,299.10 Z" fill="#000"/>
<path d="M90.83,310.50 L93.62,313.60 L90.83,316.70 L88.04,313.60 Z" fill="#000"/>
<circle cx="39.20" cy="230.60" r="3.05" fill="#000"/>
<circle cx="47.81" cy="255.20" r="3.05" fill="#000"/>
<circle cx="56.41" cy="277.00" r="3.05" fill="#000"/>
<circle cx="65.02" cy="282.60" r="3.05" fill="#000"/>
<circle cx="73.62" cy="295.00" r="3.05" fill="#000"/>
<circle cx="82.23" cy="316.60" r="3.05" fill="#000"/>
<circle cx="90.83" cy="337.80" r="3.05" fill="#000"/>
<line x1="279.30" y1="234.79" x2="279.30" y2="370.80" stroke="#666666" stroke-width="1"/>
<line x1="276.30" y1="367.80" x2="452.10" y2="367.80" stroke="#666666" stroke-width="1"/>
<line x1="276.30" y1="367.80" x2="279.30" y2="367.80" stroke="#3a3a3a" stroke-width="0.9"/>
<line x1="277.30" y1="354.50" x2="279.30" y2="354.50" stroke="#3a3a3a" stroke-width="0.75"/>
<line x1="277.30" y1="346.73" x2="279.30" y2="346.73" stroke="#3a3a3a" stroke-width="0.75"/>
<line x1="277.30" y1="341.21" x2="279.30" y2="341.21" stroke="#3a3a3a" stroke-width="0.75"/>
<line x1="277.30" y1="336.93" x2="279.30" y2="336.93" stroke="#3a3a3a" stroke-width="0.75"/>
<line x1="277.30" y1="333.43" x2="279.30" y2="333.43" stroke="#3a3a3a" stroke-width="0.75"/>
<line x1="277.30" y1="330.47" x2="279.30" y2="330.47" stroke="#3a3a3a" stroke-width="0.75"/>
<line x1="277.30" y1="327.91" x2="279.30" y2="327.91" stroke="#3a3a3a" stroke-width="0.75"/>
<line x1="277.30" y1="325.65" x2="279.30" y2="325.65" stroke="#3a3a3a" stroke-width="0.75"/>
<line x1="276.30" y1="323.63" x2="279.30" y2="323.63" stroke="#3a3a3a" stroke-width="0.9"/>
<line x1="277.30" y1="310.33" x2="279.30" y2="310.33" stroke="#3a3a3a" stroke-width="0.75"/>
<line x1="277.30" y1="302.56" x2="279.30" y2="302.56" stroke="#3a3a3a" stroke-width="0.75"/>
<line x1="277.30" y1="297.04" x2="279.30" y2="297.04" stroke="#3a3a3a" stroke-width="0.75"/>
<line x1="277.30" y1="292.76" x2="279.30" y2="292.76" stroke="#3a3a3a" stroke-width="0.75"/>
<line x1="277.30" y1="289.26" x2="279.30" y2="289.26" stroke="#3a3a3a" stroke-width="0.75"/>
<line x1="277.30" y1="286.30" x2="279.30" y2="286.30" stroke="#3a3a3a" stroke-width="0.75"/>
<line x1="277.30" y1="283.74" x2="279.30" y2="283.74" stroke="#3a3a3a" stroke-width="0.75"/>
<line x1="277.30" y1="281.48" x2="279.30" y2="281.48" stroke="#3a3a3a" stroke-width="0.75"/>
<line x1="276.30" y1="279.46" x2="279.30" y2="279.46" stroke="#3a3a3a" stroke-width="0.9"/>
<line x1="277.30" y1="266.16" x2="279.30" y2="266.16" stroke="#3a3a3a" stroke-width="0.75"/>
<line x1="277.30" y1="258.39" x2="279.30" y2="258.39" stroke="#3a3a3a" stroke-width="0.75"/>
<line x1="277.30" y1="252.87" x2="279.30" y2="252.87" stroke="#3a3a3a" stroke-width="0.75"/>
<line x1="277.30" y1="248.59" x2="279.30" y2="248.59" stroke="#3a3a3a" stroke-width="0.75"/>
<line x1="277.30" y1="245.09" x2="279.30" y2="245.09" stroke="#3a3a3a" stroke-width="0.75"/>
<line x1="277.30" y1="242.13" x2="279.30" y2="242.13" stroke="#3a3a3a" stroke-width="0.75"/>
<line x1="277.30" y1="239.57" x2="279.30" y2="239.57" stroke="#3a3a3a" stroke-width="0.75"/>
<line x1="277.30" y1="237.31" x2="279.30" y2="237.31" stroke="#3a3a3a" stroke-width="0.75"/>
<line x1="276.30" y1="235.29" x2="279.30" y2="235.29" stroke="#3a3a3a" stroke-width="0.9"/>
<line x1="279.30" y1="367.80" x2="279.30" y2="370.80" stroke="#3a3a3a" stroke-width="0.9"/>
<text x="279.50" y="381.80" text-anchor="middle" font-size="7.7" fill="#222222">0</text>
<line x1="313.76" y1="367.80" x2="313.76" y2="370.80" stroke="#3a3a3a" stroke-width="0.9"/>
<text x="313.96" y="381.80" text-anchor="middle" font-size="7.7" fill="#222222">2</text>
<line x1="348.22" y1="367.80" x2="348.22" y2="370.80" stroke="#3a3a3a" stroke-width="0.9"/>
<text x="348.42" y="381.80" text-anchor="middle" font-size="7.7" fill="#222222">4</text>
<line x1="382.68" y1="367.80" x2="382.68" y2="370.80" stroke="#3a3a3a" stroke-width="0.9"/>
<text x="382.88" y="381.80" text-anchor="middle" font-size="7.7" fill="#222222">6</text>
<line x1="417.14" y1="367.80" x2="417.14" y2="370.80" stroke="#3a3a3a" stroke-width="0.9"/>
<text x="417.34" y="381.80" text-anchor="middle" font-size="7.7" fill="#222222">8</text>
<line x1="451.60" y1="367.80" x2="451.60" y2="370.80" stroke="#3a3a3a" stroke-width="0.9"/>
<text x="451.80" y="381.80" text-anchor="middle" font-size="7.7" fill="#222222">10</text>
<text x="271.50" y="370.80" text-anchor="end" font-size="7.7" fill="#222222">0.001</text>
<text x="271.50" y="326.63" text-anchor="end" font-size="7.7" fill="#222222">0.01</text>
<text x="271.50" y="282.46" text-anchor="end" font-size="7.7" fill="#222222">0.1</text>
<text x="271.50" y="238.29" text-anchor="end" font-size="7.7" fill="#222222">1</text>
<text x="364.85" y="395.90" text-anchor="middle" font-size="9" font-weight="bold" fill="#000">dose [Gy]</text>
<text transform="translate(249.10,302.94) rotate(-90)" text-anchor="middle" font-size="9.2" font-weight="bold" fill="#000">relative survival</text>
<text x="285.10" y="361.00" font-size="12.2" font-weight="bold" fill="#000" textLength="51.4" lengthAdjust="spacingAndGlyphs">KYSE410</text>
<line x1="296.53" y1="245.70" x2="296.53" y2="253.20" stroke="#6a6a6a" stroke-width="0.8"/><line x1="294.33" y1="245.70" x2="298.73" y2="245.70" stroke="#666" stroke-width="0.8"/><line x1="294.33" y1="253.20" x2="298.73" y2="253.20" stroke="#666" stroke-width="0.8"/>
<line x1="313.76" y1="239.00" x2="313.76" y2="254.80" stroke="#6a6a6a" stroke-width="0.8"/><line x1="311.56" y1="239.00" x2="315.96" y2="239.00" stroke="#666" stroke-width="0.8"/><line x1="311.56" y1="254.80" x2="315.96" y2="254.80" stroke="#666" stroke-width="0.8"/>
<line x1="330.99" y1="244.30" x2="330.99" y2="266.20" stroke="#6a6a6a" stroke-width="0.8"/><line x1="328.79" y1="244.30" x2="333.19" y2="244.30" stroke="#666" stroke-width="0.8"/><line x1="328.79" y1="266.20" x2="333.19" y2="266.20" stroke="#666" stroke-width="0.8"/>
<line x1="348.22" y1="244.70" x2="348.22" y2="271.30" stroke="#6a6a6a" stroke-width="0.8"/><line x1="346.02" y1="244.70" x2="350.42" y2="244.70" stroke="#666" stroke-width="0.8"/><line x1="346.02" y1="271.30" x2="350.42" y2="271.30" stroke="#666" stroke-width="0.8"/>
<line x1="348.22" y1="248.00" x2="348.22" y2="263.90" stroke="#6a6a6a" stroke-width="0.8"/><line x1="346.02" y1="248.00" x2="350.42" y2="248.00" stroke="#666" stroke-width="0.8"/><line x1="346.02" y1="263.90" x2="350.42" y2="263.90" stroke="#666" stroke-width="0.8"/>
<line x1="365.45" y1="246.40" x2="365.45" y2="272.70" stroke="#6a6a6a" stroke-width="0.8"/><line x1="363.25" y1="246.40" x2="367.65" y2="246.40" stroke="#666" stroke-width="0.8"/><line x1="363.25" y1="272.70" x2="367.65" y2="272.70" stroke="#666" stroke-width="0.8"/>
<line x1="365.45" y1="247.70" x2="365.45" y2="266.30" stroke="#6a6a6a" stroke-width="0.8"/><line x1="363.25" y1="247.70" x2="367.65" y2="247.70" stroke="#666" stroke-width="0.8"/><line x1="363.25" y1="266.30" x2="367.65" y2="266.30" stroke="#666" stroke-width="0.8"/>
<line x1="382.68" y1="246.40" x2="382.68" y2="279.50" stroke="#6a6a6a" stroke-width="0.8"/><line x1="380.48" y1="246.40" x2="384.88" y2="246.40" stroke="#666" stroke-width="0.8"/><line x1="380.48" y1="279.50" x2="384.88" y2="279.50" stroke="#666" stroke-width="0.8"/>
<line x1="382.68" y1="248.80" x2="382.68" y2="270.40" stroke="#6a6a6a" stroke-width="0.8"/><line x1="380.48" y1="248.80" x2="384.88" y2="248.80" stroke="#666" stroke-width="0.8"/><line x1="380.48" y1="270.40" x2="384.88" y2="270.40" stroke="#666" stroke-width="0.8"/>
<line x1="417.14" y1="251.30" x2="417.14" y2="300.20" stroke="#6a6a6a" stroke-width="0.8"/><line x1="414.94" y1="251.30" x2="419.34" y2="251.30" stroke="#666" stroke-width="0.8"/><line x1="414.94" y1="300.20" x2="419.34" y2="300.20" stroke="#666" stroke-width="0.8"/>
<line x1="417.14" y1="256.30" x2="417.14" y2="277.00" stroke="#6a6a6a" stroke-width="0.8"/><line x1="414.94" y1="256.30" x2="419.34" y2="256.30" stroke="#666" stroke-width="0.8"/><line x1="414.94" y1="277.00" x2="419.34" y2="277.00" stroke="#666" stroke-width="0.8"/>
<line x1="417.14" y1="260.00" x2="417.14" y2="279.90" stroke="#6a6a6a" stroke-width="0.8"/><line x1="414.94" y1="260.00" x2="419.34" y2="260.00" stroke="#666" stroke-width="0.8"/><line x1="414.94" y1="279.90" x2="419.34" y2="279.90" stroke="#666" stroke-width="0.8"/>
<line x1="451.60" y1="298.00" x2="451.60" y2="314.00" stroke="#6a6a6a" stroke-width="0.8"/><line x1="449.40" y1="298.00" x2="452.10" y2="298.00" stroke="#666" stroke-width="0.8"/><line x1="449.40" y1="314.00" x2="452.10" y2="314.00" stroke="#666" stroke-width="0.8"/>
<polyline points="279.30,235.30 283.61,236.13 287.92,237.00 292.22,237.93 296.53,238.90 300.84,239.91 305.15,240.97 309.45,242.08 313.76,243.24 318.07,244.44 322.38,245.69 326.68,246.99 330.99,248.34 335.30,249.73 339.61,251.16 343.91,252.65 348.22,254.18 352.53,255.76 356.84,257.38 361.14,259.06 365.45,260.77 369.76,262.54 374.07,264.35 378.37,266.21 382.68,268.12 386.99,270.07 391.30,272.07 395.60,274.12 399.91,276.22 404.22,278.36 408.52,280.54 412.83,282.78 417.14,285.06 421.45,287.39 425.75,289.76 430.06,292.19 434.37,294.66 438.68,297.17 442.99,299.73 447.29,302.34 451.60,305.00" stroke="#000" stroke-width="1.1" fill="none"/>
<polyline points="279.30,235.30 282.75,236.08 286.19,236.87 289.64,237.65 293.08,238.44 296.53,239.22 299.98,240.00 303.42,240.79 306.87,241.57 310.31,242.36 313.76,243.14 317.21,243.92 320.65,244.71 324.10,245.49 327.54,246.28 330.99,247.06 334.44,247.84 337.88,248.63 341.33,249.41 344.77,250.20 348.22,250.98 351.67,251.76 355.11,252.55 358.56,253.33 362.00,254.12 365.45,254.90 368.90,255.68 372.34,256.47 375.79,257.25 379.23,258.04 382.68,258.82 386.13,259.60 389.57,260.39 393.02,261.17 396.46,261.96 399.91,262.74 403.36,263.52 406.80,264.31 410.25,265.09 413.69,265.88 417.14,266.66" stroke="#000" stroke-width="1.0" fill="none" stroke-dasharray="2.5,1.5"/>
<polyline points="279.30,235.30 282.75,236.12 286.19,236.95 289.64,237.77 293.08,238.60 296.53,239.42 299.98,240.24 303.42,241.07 306.87,241.89 310.31,242.72 313.76,243.54 317.21,244.36 320.65,245.19 324.10,246.01 327.54,246.84 330.99,247.66 334.44,248.48 337.88,249.31 341.33,250.13 344.77,250.96 348.22,251.78 351.67,252.60 355.11,253.43 358.56,254.25 362.00,255.08 365.45,255.90 368.90,256.72 372.34,257.55 375.79,258.37 379.23,259.20 382.68,260.02 386.13,260.84 389.57,261.67 393.02,262.49 396.46,263.32 399.91,264.14 403.36,264.96 406.80,265.79 410.25,266.61 413.69,267.44 417.14,268.26" stroke="#111" stroke-width="1.0" fill="none" stroke-dasharray="4,3.1"/>
<polyline points="279.30,235.30 282.75,236.10 286.19,236.91 289.64,237.71 293.08,238.52 296.53,239.32 299.98,240.12 303.42,240.93 306.87,241.73 310.31,242.54 313.76,243.34 317.21,244.14 320.65,244.95 324.10,245.75 327.54,246.56 330.99,247.36 334.44,248.16 337.88,248.97 341.33,249.77 344.77,250.58 348.22,251.38 351.67,252.18 355.11,252.99 358.56,253.79 362.00,254.60 365.45,255.40 368.90,256.20 372.34,257.01 375.79,257.81 379.23,258.62 382.68,259.42 386.13,260.22 389.57,261.03 393.02,261.83 396.46,262.64 399.91,263.44 403.36,264.24 406.80,265.05 410.25,265.85 413.69,266.66 417.14,267.46" stroke="#111" stroke-width="0.9" fill="none" stroke-dasharray="4,3.1" stroke-dashoffset="0.6"/>
<rect x="276.60" y="229.60" width="5.40" height="5.40" fill="#000"/>
<rect x="311.06" y="244.30" width="5.40" height="5.40" fill="#000"/>
<rect x="345.52" y="255.10" width="5.40" height="5.40" fill="#000"/>
<rect x="379.98" y="258.30" width="5.40" height="5.40" fill="#000"/>
<rect x="414.44" y="263.10" width="5.40" height="5.40" fill="#000"/>
<path d="M279.30,232.11 L282.10,237.43 L276.50,237.43 Z" fill="#000"/>
<path d="M313.76,241.31 L316.56,246.63 L310.96,246.63 Z" fill="#000"/>
<path d="M348.22,248.81 L351.02,254.13 L345.42,254.13 Z" fill="#000"/>
<path d="M382.68,261.31 L385.48,266.63 L379.88,266.63 Z" fill="#000"/>
<path d="M417.14,282.41 L419.94,287.73 L414.34,287.73 Z" fill="#000"/>
<path d="M451.60,301.81 L454.40,307.13 L448.80,307.13 Z" fill="#000"/>
<path d="M279.30,222.60 L282.09,225.70 L279.30,228.80 L276.51,225.70 Z" fill="#000"/>
<path d="M296.53,236.90 L299.32,240.00 L296.53,243.10 L293.74,240.00 Z" fill="#000"/>
<path d="M313.76,241.40 L316.55,244.50 L313.76,247.60 L310.97,244.50 Z" fill="#000"/>
<path d="M348.22,248.40 L351.01,251.50 L348.22,254.60 L345.43,251.50 Z" fill="#000"/>
<path d="M382.68,250.90 L385.47,254.00 L382.68,257.10 L379.89,254.00 Z" fill="#000"/>
<path d="M417.14,256.90 L419.93,260.00 L417.14,263.10 L414.35,260.00 Z" fill="#000"/>
<circle cx="279.30" cy="221.90" r="3.05" fill="#000"/>
<circle cx="296.53" cy="249.50" r="3.05" fill="#000"/>
<circle cx="313.76" cy="249.30" r="3.05" fill="#000"/>
<circle cx="330.99" cy="253.10" r="3.05" fill="#000"/>
<circle cx="348.22" cy="254.50" r="3.05" fill="#000"/>
<circle cx="365.45" cy="255.10" r="3.05" fill="#000"/>
<circle cx="382.68" cy="257.50" r="3.05" fill="#000"/>
<line x1="493.1" y1="49.5" x2="521.1" y2="49.5" stroke="#000" stroke-width="1.1" fill="none"/>
<path d="M508.30,46.91 L511.10,52.23 L505.50,52.23 Z" fill="#000"/>
<line x1="493.1" y1="70.5" x2="521.1" y2="70.5" stroke="#000" stroke-width="1.1" fill="none" stroke-dasharray="2.5,1.5"/>
<rect x="505.20" y="67.90" width="5.60" height="5.60" fill="#000"/>
<line x1="493.1" y1="91.5" x2="521.1" y2="91.5" stroke="#000" stroke-width="1.1" fill="none" stroke-dasharray="4,3.1"/>
<path d="M508.50,87.70 L512.19,91.80 L508.50,95.90 L504.81,91.80 Z" fill="#000"/>
<line x1="493.1" y1="112.45" x2="521.1" y2="112.45" stroke="#000" stroke-width="1.1" fill="none" stroke-dasharray="4,3.1"/>
<circle cx="508.30" cy="112.55" r="3.20" fill="#000"/>
<g transform="translate(524.90,51.90) scale(0.78,1)"><text x="0" y="0" font-size="9.9" fill="#222" stroke="#222" stroke-width="0.22">X</text></g>
<text x="525.10" y="69.60" font-size="6.4" fill="#222" stroke="#222" stroke-width="0.12">1</text>
<g transform="translate(527.90,72.90) scale(0.95,1)"><text x="0" y="0" font-size="9.3" fill="#222" stroke="#222" stroke-width="0.22">H</text></g>
<text x="525.10" y="90.60" font-size="6.4" fill="#222" stroke="#222" stroke-width="0.12">12</text>
<g transform="translate(532.00,93.90) scale(0.86,1)"><text x="0" y="0" font-size="9.3" fill="#222" stroke="#222" stroke-width="0.22">C</text></g>
<text x="525.10" y="111.55" font-size="6.4" fill="#222" stroke="#222" stroke-width="0.12">16</text>
<g transform="translate(532.20,114.85) scale(0.95,1)"><text x="0" y="0" font-size="9.3" fill="#222" stroke="#222" stroke-width="0.22">O</text></g>
<rect x="486" y="235" width="198" height="24" fill="#000"/>
<rect x="486" y="259.00" width="198" height="21.00" fill="#e6e6e6"/>
<rect x="486" y="302.00" width="198" height="22.00" fill="#e6e6e6"/>
<rect x="486" y="346.00" width="198" height="21.00" fill="#e6e6e6"/>
<rect x="486" y="367" width="198" height="2.2" fill="#000"/>
<g transform="translate(547.90,246.9) scale(0.93,1)"><text x="0" y="0" font-size="6.9" font-weight="bold" fill="#fff">1</text></g>
<g transform="translate(551.40,249.9) scale(0.9,1)"><text x="0" y="0" font-size="9.6" font-weight="bold" fill="#fff">H</text></g>
<g transform="translate(596.10,246.9) scale(0.93,1)"><text x="0" y="0" font-size="6.9" font-weight="bold" fill="#fff">12</text></g>
<g transform="translate(603.00,249.9) scale(0.9,1)"><text x="0" y="0" font-size="9.6" font-weight="bold" fill="#fff">C</text></g>
<g transform="translate(644.10,246.9) scale(0.93,1)"><text x="0" y="0" font-size="6.9" font-weight="bold" fill="#fff">16</text></g>
<g transform="translate(651.00,249.9) scale(0.9,1)"><text x="0" y="0" font-size="9.6" font-weight="bold" fill="#fff">O</text></g>
<g transform="translate(493.80,272.00) scale(0.905,1)"><text x="0" y="0" font-size="9.9" font-weight="bold" fill="#000" stroke="#000" stroke-width="0.18">OE19</text></g>
<g transform="translate(547.80,272.00) scale(0.885,1)"><text x="0" y="0" font-size="10.6" fill="#262626">0,996</text></g>
<g transform="translate(596.00,272.00) scale(0.885,1)"><text x="0" y="0" font-size="10.6" fill="#262626">2,539</text></g>
<g transform="translate(644.00,272.00) scale(0.885,1)"><text x="0" y="0" font-size="10.6" fill="#262626">2,696</text></g>
<g transform="translate(493.80,293.90) scale(0.905,1)"><text x="0" y="0" font-size="9.9" font-weight="bold" fill="#000" stroke="#000" stroke-width="0.18">OE33</text></g>
<g transform="translate(547.80,293.90) scale(0.885,1)"><text x="0" y="0" font-size="10.6" fill="#262626">0,616</text></g>
<g transform="translate(596.00,293.90) scale(0.885,1)"><text x="0" y="0" font-size="10.6" fill="#262626">1,695</text></g>
<g transform="translate(644.00,293.90) scale(0.885,1)"><text x="0" y="0" font-size="10.6" fill="#262626">1,673</text></g>
<g transform="translate(493.80,315.70) scale(0.885,1)"><text x="0" y="0" font-size="9.9" font-weight="bold" fill="#000" stroke="#000" stroke-width="0.18">KYSE270</text></g>
<g transform="translate(547.80,315.70) scale(0.885,1)"><text x="0" y="0" font-size="10.6" fill="#262626">2,272</text></g>
<g transform="translate(596.00,315.70) scale(0.885,1)"><text x="0" y="0" font-size="10.6" fill="#262626">4,263</text></g>
<g transform="translate(644.00,315.70) scale(0.885,1)"><text x="0" y="0" font-size="10.6" fill="#262626">4,977</text></g>
<g transform="translate(493.80,337.50) scale(0.885,1)"><text x="0" y="0" font-size="9.9" font-weight="bold" fill="#000" stroke="#000" stroke-width="0.18">KYSE410</text></g>
<g transform="translate(547.80,337.50) scale(0.885,1)"><text x="0" y="0" font-size="10.6" fill="#262626">0,703</text></g>
<g transform="translate(596.00,337.50) scale(0.885,1)"><text x="0" y="0" font-size="10.6" fill="#262626">0,726</text></g>
<g transform="translate(644.00,337.50) scale(0.885,1)"><text x="0" y="0" font-size="10.6" fill="#262626">0,788</text></g>
<g transform="translate(493.80,359.40) scale(0.97,1)"><text x="0" y="0" font-size="9.9" font-weight="bold" fill="#000" stroke="#000" stroke-width="0.18" font-style="italic">mean</text></g>
<g transform="translate(547.80,359.40) scale(0.885,1)"><text x="0" y="0" font-size="10.6" fill="#262626" font-style="italic">1,147</text></g>
<g transform="translate(596.00,359.40) scale(0.885,1)"><text x="0" y="0" font-size="10.6" fill="#262626" font-style="italic">2,306</text></g>
<g transform="translate(644.00,359.40) scale(0.885,1)"><text x="0" y="0" font-size="10.6" fill="#262626" font-style="italic">2,533</text></g>
</svg>
</body></html>
